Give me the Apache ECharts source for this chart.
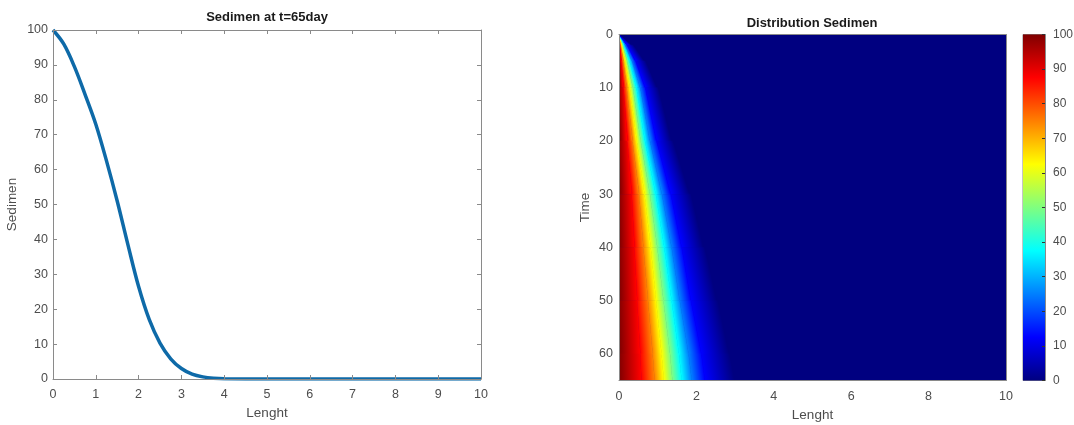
<!DOCTYPE html>
<html>
<head>
<meta charset="utf-8">
<script src="https://cdn.jsdelivr.net/npm/echarts@6/dist/echarts.min.js"></script>
<style>html,body{margin:0;padding:0;background:#fff}#main{width:1074px;height:425px}</style>
</head>
<body>
<div id="main"></div>
<script>
// left: sediment profile at t=65 day
var LEN_X = [0,0.25,0.5,0.75,1,1.25,1.5,1.75,2,2.25,2.5,2.75,3,3.25,3.5,3.75,4,5,6,7,8,9,10];
var SED_Y = [100,96,89.5,81.5,73,62.5,51,38.5,26.5,17,10.3,5.8,3,1.4,0.6,0.2,0.05,0,0,0,0,0,0];

// right: distribution over time, x (Lenght) where value falls to each level
var TIME_ROWS = [0, 2, 5, 10, 20, 30, 40, 50, 60, 65];
var LEVELS = [100, 87.5, 75, 62.5, 50, 37.5, 25, 12.5, 0];
var CROSS_X = [
  [0, 0,    0,    0,    0,    0,    0,    0,    0],
  [0, 0.03, 0.05, 0.07, 0.10, 0.13, 0.16, 0.21, 0.36],
  [0, 0.06, 0.11, 0.16, 0.21, 0.27, 0.34, 0.43, 0.68],
  [0, 0.12, 0.20, 0.28, 0.36, 0.45, 0.55, 0.68, 1.00],
  [0, 0.22, 0.35, 0.46, 0.56, 0.67, 0.80, 0.97, 1.38],
  [0, 0.33, 0.52, 0.66, 0.80, 0.95, 1.11, 1.34, 1.85],
  [0, 0.40, 0.63, 0.82, 0.99, 1.17, 1.36, 1.62, 2.20],
  [0, 0.47, 0.75, 0.96, 1.15, 1.36, 1.57, 1.86, 2.55],
  [0, 0.55, 0.87, 1.10, 1.32, 1.55, 1.80, 2.13, 2.85],
  [0, 0.58, 0.92, 1.16, 1.38, 1.62, 1.88, 2.22, 3.00]
];
var CBAR_RANGE = [0, 100];
var JET_STOPS = [0, 12.5, 37.5, 62.5, 87.5, 100];

var AX = '#8a8a8a', TXT = '#4d4d4d', FONT = 'Liberation Sans';

function jet(v) {
  var t = v / 100;
  function c(x) { return Math.round(255 * Math.max(0, Math.min(1, 1.5 - Math.abs(4 * t - x)))); }
  return 'rgb(' + c(3) + ',' + c(2) + ',' + c(1) + ')';
}

var bandData = [];
for (var i = 0; i < TIME_ROWS.length - 1; i++) {
  for (var k = 0; k < LEVELS.length - 1; k++) {
    var a = CROSS_X[i], b = CROSS_X[i + 1];
    bandData.push([a[k], TIME_ROWS[i], a[k + 1], TIME_ROWS[i], b[k + 1], TIME_ROWS[i + 1], b[k], TIME_ROWS[i + 1], k]);
  }
}

// band between two levels; gradient runs across the band, normal to its slanted edges
function renderBand(params, api) {
  var p = [0, 1, 2, 3].map(function (j) { return api.coord([api.value(2 * j), api.value(2 * j + 1)]); });
  var k = api.value(8);
  var dx = (p[3][0] - p[0][0] + p[2][0] - p[1][0]) / 2, dy = (p[3][1] - p[0][1] + p[2][1] - p[1][1]) / 2;
  var len = Math.sqrt(dx * dx + dy * dy) || 1;
  var nx = dy / len, ny = -dx / len;
  if (nx < 0) { nx = -nx; ny = -ny; }
  var ml = [(p[0][0] + p[3][0]) / 2, (p[0][1] + p[3][1]) / 2];
  var mr = [(p[1][0] + p[2][0]) / 2, (p[1][1] + p[2][1]) / 2];
  var w = (mr[0] - ml[0]) * nx + (mr[1] - ml[1]) * ny;
  if (w < 0.05) w = 0.05;
  var g = new echarts.graphic.LinearGradient(ml[0], ml[1], ml[0] + nx * w, ml[1] + ny * w,
    [{offset: 0, color: jet(LEVELS[k])}, {offset: 1, color: jet(LEVELS[k + 1])}], true);
  return {type: 'polygon', shape: {points: p}, style: {fill: g, stroke: g, lineWidth: 0.6}};
}

function renderBar(params, api) {
  var p0 = api.coord([0, api.value(0)]), p1 = api.coord([1, api.value(1)]);
  var g = new echarts.graphic.LinearGradient(0, 1, 0, 0, JET_STOPS.map(function (v) {
    return {offset: v / 100, color: jet(v)};
  }));
  return {type: 'rect', shape: {x: p0[0], y: p1[1], width: p1[0] - p0[0], height: p0[1] - p1[1]}, style: {fill: g}};
}

function baseAxis(extra) {
  var o = {
    type: 'value', z: 5,
    axisLine: {show: true, onZero: false, lineStyle: {color: AX, width: 1}},
    axisTick: {show: true, inside: true, length: 4, lineStyle: {color: AX}},
    axisLabel: {color: TXT, fontSize: 12.5, fontFamily: FONT},
    splitLine: {show: false},
    nameTextStyle: {color: TXT, fontSize: 13.5, fontFamily: FONT}
  };
  for (var key in extra) o[key] = extra[key];
  return o;
}
var noLabel = {show: false};

var chart = echarts.init(document.getElementById('main'));
chart.setOption({
  animation: false,
  textStyle: {fontFamily: FONT},
  title: [
    {text: 'Sedimen at t=65day', left: 267, top: 11, textAlign: 'center', padding: 0,
      textStyle: {fontSize: 13, fontWeight: 'bold', color: '#1a1a1a', fontFamily: FONT}},
    {text: 'Distribution Sedimen', left: 812, top: 16.5, textAlign: 'center', padding: 0,
      textStyle: {fontSize: 13, fontWeight: 'bold', color: '#1a1a1a', fontFamily: FONT}}
  ],
  grid: [
    {left: 53, top: 30, width: 428, height: 349, outerBoundsMode: 'none'},
    {left: 619, top: 34.5, width: 387, height: 346, show: true, backgroundColor: jet(0), borderWidth: 0, outerBoundsMode: 'none'},
    {left: 1023, top: 34.5, width: 22, height: 346, show: true, borderColor: AX, borderWidth: 1, outerBoundsMode: 'none'}
  ],
  xAxis: [
    baseAxis({gridIndex: 0, min: 0, max: 10, interval: 1, name: 'Lenght', nameLocation: 'middle', nameGap: 27,
      axisLabel: {color: TXT, fontSize: 12.5, fontFamily: FONT, margin: 9}}),
    baseAxis({gridIndex: 0, position: 'top', min: 0, max: 10, interval: 1, axisLabel: noLabel}),
    baseAxis({gridIndex: 1, min: 0, max: 10, interval: 2, name: 'Lenght', nameLocation: 'middle', nameGap: 28,
      axisTick: noLabel, axisLabel: {color: TXT, fontSize: 12.5, fontFamily: FONT, margin: 10}}),
    baseAxis({gridIndex: 1, position: 'top', min: 0, max: 10, axisTick: noLabel, axisLabel: noLabel}),
    baseAxis({gridIndex: 2, min: 0, max: 1, show: false})
  ],
  yAxis: [
    baseAxis({gridIndex: 0, min: 0, max: 100, interval: 10, name: 'Sedimen', nameLocation: 'middle', nameGap: 34,
      axisLabel: {color: TXT, fontSize: 12.5, fontFamily: FONT, margin: 5}}),
    baseAxis({gridIndex: 0, position: 'right', min: 0, max: 100, interval: 10, axisLabel: noLabel}),
    baseAxis({gridIndex: 1, min: 0, max: 65, interval: 10, inverse: true, name: 'Time', nameLocation: 'middle', nameGap: 27,
      axisTick: noLabel, axisLabel: {color: TXT, fontSize: 12.5, fontFamily: FONT, margin: 6, showMaxLabel: false}}),
    baseAxis({gridIndex: 1, position: 'right', min: 0, max: 65, inverse: true, axisTick: noLabel, axisLabel: noLabel}),
    baseAxis({gridIndex: 2, position: 'right', min: CBAR_RANGE[0], max: CBAR_RANGE[1], interval: 10,
      axisTick: {show: true, inside: true, length: 3, lineStyle: {color: '#333'}},
      axisLabel: {color: TXT, fontSize: 12, fontFamily: FONT, margin: 8}})
  ],
  series: [
    {type: 'line', xAxisIndex: 0, yAxisIndex: 0, showSymbol: false, smooth: 0.35,
      data: LEN_X.map(function (x, i) { return [x, SED_Y[i]]; }),
      lineStyle: {color: '#0e6aa8', width: 3.5}},
    {type: 'custom', xAxisIndex: 2, yAxisIndex: 2, renderItem: renderBand, data: bandData, clip: true, silent: true},
    {type: 'custom', xAxisIndex: 4, yAxisIndex: 4, renderItem: renderBar, data: [[CBAR_RANGE[0], CBAR_RANGE[1]]], silent: true}
  ]
});
</script>
</body>
</html>
